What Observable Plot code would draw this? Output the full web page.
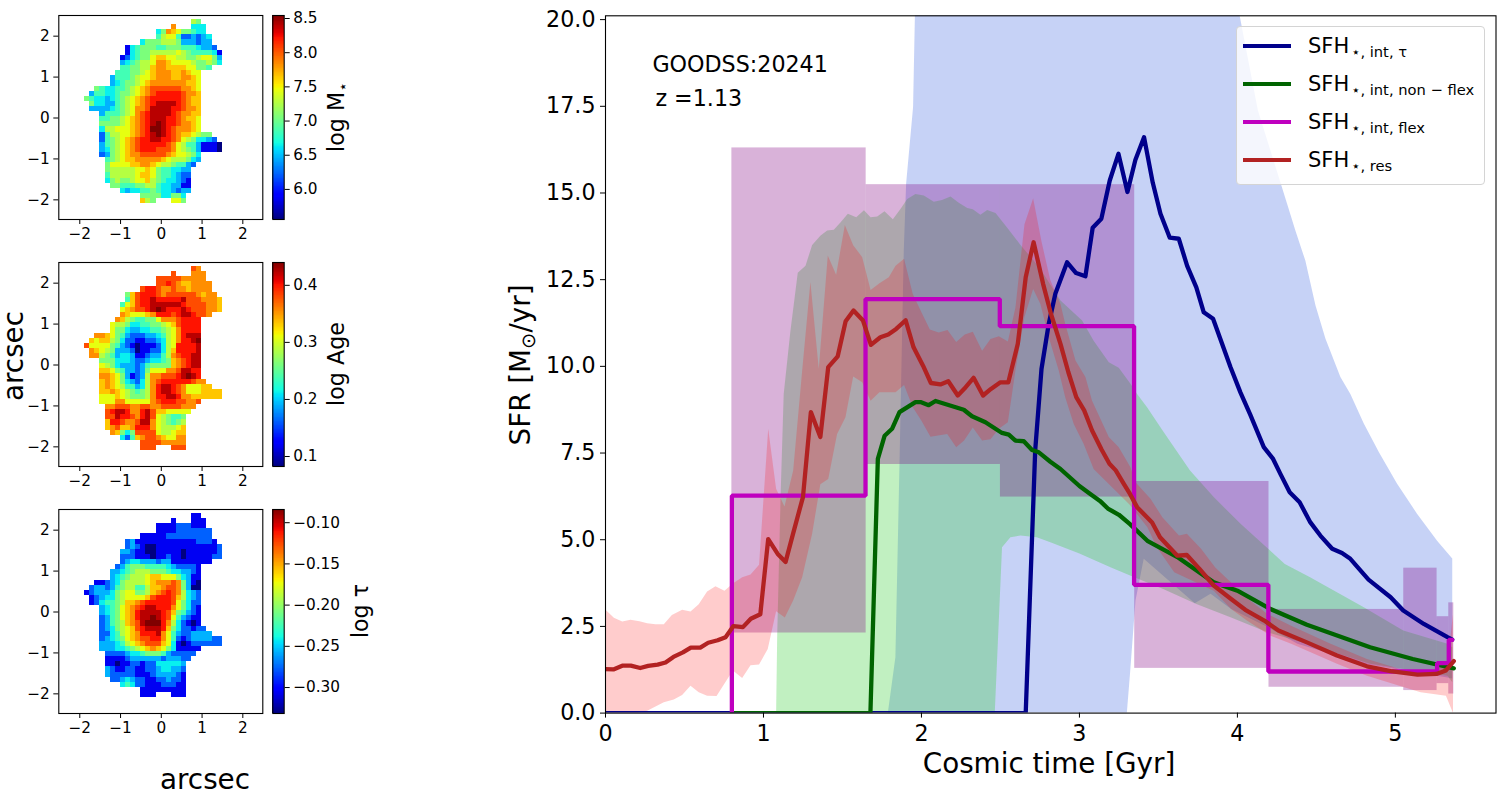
<!DOCTYPE html>
<html>
<head>
<meta charset="utf-8">
<script src="https://cdn.jsdelivr.net/npm/d3@7"></script>
<script src="https://cdn.jsdelivr.net/npm/@observablehq/plot@0.6"></script>
<style>
  html, body { margin: 0; padding: 0; background: #fff; overflow: hidden; }
  body { width: 1504px; height: 794px; position: relative; font-family: "DejaVu Sans", sans-serif; color: #000; }
  .label { position: absolute; white-space: nowrap; line-height: 1; transform: translate(-50%, -50%); }
  .label.up { transform: translate(-50%, -50%) rotate(-90deg); }
  .low { font-size: 0.7em; position: relative; top: 0.25em; margin-left: 2px; }
  #legend { position: absolute; left: 1236px; top: 26px; width: 248.5px; height: 158.5px; box-sizing: border-box;
    background: rgba(255, 255, 255, 0.8); border: 1.4px solid #d4d4d4; border-radius: 4px; }
  .swatch { position: absolute; left: 1242.7px; width: 48.3px; height: 4.2px; }
  .entry { position: absolute; left: 1308px; font-size: 21px; line-height: 1; white-space: nowrap; }
</style>
</head>
<body>
<script>
// maps: one character per pixel, 0 (navy) to e (dark red) on the jet colour bar, blank = masked
// first filled column of every row, counted from x = -1.88 arcsec
const rowStart = [21,17,14,14,11,8,8,7,7,7,6,5,5,2,1,0,1,1,3,3,3,3,3,3,3,3,3,4,4,4,4,4,5,7,11,11];
const levelFraction = [0,.1,.22,.3,.36,.43,.5,.57,.63,.7,.76,.83,.89,.95,1];

const massLevels = ["76","a   444","46a9866544","57885223234","46667776333233","145666556665554332",
  "1456677777876555541","12456689988776678863","3456778aa98888766764","5566779aa999988665",
  "55566789aaa99a988","355567889aaa99aa98","34566789aaaaaaa998","6544556789abbbbbbaa98",
  "35544566789abcccccbaa9","65443456789abccccccba99","6443356789abcddddcba99","333345678aabddddccbaa9",
  "3555678abcddddcbaa99","5566789abcdddccba998","6666789abcdedccbaa98","4778889abceedcbaaa98",
  "2577889abcdedcba998766","256789abccddccba8764432","356789abcccccba875531110","346789abcccbbba876531110",
  "236789aabbbbba988764","567899aaaaa98777643","6888899aa987765532","67777788986554433",
  "57777789986554322","46766788976544321","6655566775443311","43445565443233","666644664","976   886"];

const ageLevels = ["ba","b   aaa","bbbbbaaaaa","bbcba99aaaa","bccbaabaa9aaaa","69bcccbabbbbbba9aa",
  "59bccdcccccdbbbaaa9","589bccddddddcbbbbaa9","89abbcdedcccdcbbbaa9","a98889acccbcddcbba",
  "a97655668aaabcccc","8776445566789bcccc","8664334455678acccc","aa98653222334578acddd",
  "98997642211223478accde","b88886532101112478ccccd","a9876333201122479ccccd","aa76534431123357abccdd",
  "666444322344569abcdd","876433323566669abcdd","9986533236888aabddcc","aa98631237aabbbcdedc",
  "9a98643247abccccccbaa","9a98755347acddcba88899","99a9876567acddcba8889999","8889876667accddcaa999999",
  "888aa88888abcccbbaab","aabbbaabbaabbbbaaa","bcddcaacdb9988888","bbdccbacdb876556",
  "9ccbaabdda876567","9ab99accca877789","a9646bbbb877899","4259abba988aa","bbbbaaaaa","bbb   bbb"];

const tauLevels = ["11","1   111","1111222111","11112222222","11111222222222","231111111111112221",
  "2321001111111111112","33211001111101111112","22211101121101111122","234433323311111111",
  "23566655554322221","334567776665443321","345677789988864311","112346777789aaaba6310",
  "23323567755799abba6300","12333467886679abcba7432","123446788889bcccb97432","124556799abcccccb86422",
  "345689abcddccca86421","345689acddddcb965321","235689acddedcb853211","235679abdeeeca742101",
  "2346789bcdddc96422122","2245789acccda853223333","2345689abbcca85212333322","33345789abbb984101222222",
  "3334456789a986411111","222234456665322222","11112333333233322","1101122122444443",
  "3211221122344332","3222221112333321","223432211223221","4542211122211","111111111","111   111"];

// colour bar ranges and ticks
const massRange = [5.56, 8.544];
const massTicks = [6, 6.5, 7, 7.5, 8, 8.5];
const ageRange = [0.0825, 0.44];
const ageTicks = [0.1, 0.2, 0.3, 0.4];
const tauRange = [-0.3315, -0.084];
const tauTicks = [-0.3, -0.25, -0.2, -0.15, -0.1];
const mapTicks = [-2, -1, 0, 1, 2];

// star formation histories, [cosmic time in Gyr, SFR]
const tauLine = [[0,0],[2.66,0],[2.72,7.57],[2.76,9.93],[2.806,11.23],[2.848,12.1],[2.922,13],[2.979,12.69],[3.038,12.6],
  [3.084,14],[3.139,14.26],[3.192,15.36],[3.247,16.13],[3.304,15.03],[3.354,15.95],[3.409,16.61],[3.464,15.3],[3.513,14.4],
  [3.572,13.71],[3.629,13.68],[3.682,12.9],[3.74,12.28],[3.787,11.56],[3.846,11.37],[3.903,10.65],[3.956,9.98],[4.019,9.25],
  [4.082,8.6],[4.167,7.67],[4.226,7.33],[4.272,6.9],[4.331,6.37],[4.394,6.08],[4.462,5.5],[4.525,5.12],[4.6,4.74],[4.662,4.62],
  [4.715,4.45],[4.78,4.11],[4.83,3.85],[4.97,3.34],[5.05,2.96],[5.18,2.57],[5.33,2.19],[5.36,2.12]];

const nonFlexLine = [[0.8,0],[1.677,0],[1.724,7.33],[1.767,8],[1.814,8.2],[1.861,8.68],[1.962,8.97],[1.994,8.97],[2.046,8.88],
  [2.089,9],[2.268,8.75],[2.32,8.56],[2.405,8.39],[2.51,8.08],[2.553,8.03],[2.595,7.86],[2.648,7.84],[2.7,7.59],[2.743,7.52],
  [2.816,7.25],[2.88,7.04],[3,6.55],[3.06,6.35],[3.13,6.12],[3.18,5.9],[3.25,5.72],[3.32,5.45],[3.43,4.97],[3.62,4.5],[3.85,3.77],
  [4,3.53],[4.21,3],[4.44,2.55],[4.84,1.9],[5.11,1.56],[5.37,1.29]];

const flexTime = [0.8,0.8,1.646,2.496,3.346,4.196,5.264,5.338,5.36];
const flexSfr = [0,6.27,11.94,11.16,3.7,1.2,1.44,2.11,2.11];

const resTime = [0,.05,.11,.16,.22,.27,.33,.38,.43,.49,.54,.6,.65,.71,.76,.81,.87,.92,.98,1.03,1.09,1.14,1.19,1.25,1.3,1.36,1.41,1.47,
  1.52,1.57,1.63,1.68,1.74,1.79,1.84,1.9,1.95,2.01,2.06,2.12,2.17,2.23,2.28,2.33,2.39,2.44,2.5,2.55,2.61,2.66,2.71,2.77,2.82,2.88,2.93,
  2.98,3.03,3.08,3.14,3.19,3.23,3.28,3.32,3.365,3.46,3.51,3.62,3.68,3.76,3.85,3.96,4.05,4.17,4.26,4.44,4.63,4.82,4.97,5.14,5.26,5.32,5.37];
const resSfr = [1.27,1.26,1.37,1.37,1.3,1.36,1.4,1.46,1.62,1.75,1.89,1.89,2.03,2.1,2.19,2.51,2.48,2.72,2.85,5.02,4.59,4.36,5.22,6.23,8.68,7.96,
  9.98,10.29,11.3,11.61,11.32,10.62,10.84,10.92,11.08,11.33,10.55,10.02,9.52,9.48,9.57,9.16,9.4,9.67,9.16,9.35,9.54,9.54,10.65,12.57,13.58,12.38,
  11.51,10.65,9.83,9.11,8.73,8.15,7.6,7.19,7,6.62,6.32,5.94,5.5,5.07,4.54,4.56,4.16,3.68,3.29,2.98,2.67,2.38,2.04,1.66,1.35,1.21,1.11,1.13,1.23,1.5];

// uncertainty bands, outlines going along the top and back along the bottom
const tauBand = [[1.787,0],[1.835,1.61],[1.861,7.19],[1.888,13.34],[1.903,15.27],[1.947,17.48],[1.958,20],[1.965,22],[4,22],[4.015,20.1],
  [4.13,17.38],[4.314,14.7],[4.367,13.92],[4.43,13.05],[4.494,11.76],[4.557,10.8],[4.652,9.69],[4.715,9.2],[4.8,8.35],[4.896,7.52],[5.01,6.62],
  [5.137,5.75],[5.264,4.97],[5.36,4.46],[5.36,1],[5.33,1.03],[4.8,1.42],[4.38,2],[4.19,2.48],[3.96,3],[3.83,3.44],[3.73,3.17],[3.407,4.45],
  [3.355,3.25],[3.32,1.13],[3.3,0]];

const nonFlexBand = [[1.08,0],[1.087,2.28],[1.108,6.2],[1.128,9.2],[1.17,11],[1.217,12.7],[1.266,12.9],[1.308,13.5],[1.36,13.77],[1.403,13.92],
  [1.445,13.94],[1.487,14.15],[1.534,14.4],[1.587,14.3],[1.636,14.5],[1.678,14.3],[1.72,14.32],[1.766,14.47],[1.819,14.24],[1.867,14.54],[1.91,14.83],
  [1.962,14.97],[2.015,14.93],[2.078,14.75],[2.13,14.8],[2.184,14.9],[2.236,14.72],[2.29,14.57],[2.325,14.53],[2.373,14.37],[2.416,14.51],[2.469,14.42],
  [2.543,14],[2.627,13.5],[2.71,13.05],[2.753,12.81],[2.88,11.9],[3.017,11.32],[3.09,10.74],[3.186,10.12],[3.249,9.96],[3.323,9.5],[3.365,9.2],[3.428,8.82],
  [3.534,8.1],[3.7,7],[3.85,6.23],[4.02,5.46],[4.3,4.3],[4.46,3.92],[4.8,3.05],[5.05,2.38],[5.33,2],[5.36,1.9],[5.36,0.89],[5.33,1.08],[4.84,1.42],
  [4.44,2],[4.19,2.33],[3.96,2.76],[3.74,3.15],[3.53,3.58],[3.355,3.9],[3.2,4.2],[3,4.6],[2.816,4.93],[2.73,5.07],[2.627,5.12],[2.563,5.07],[2.51,4.78],[2.464,0]];

const resBand = [[0,2.98],[.053,2.75],[.106,2.64],[.158,2.69],[.215,2.65],[.264,2.59],[.316,2.56],[.369,2.56],[.42,2.83],[.485,2.98],[.538,2.93],[.59,3.14],
  [.643,3.51],[.696,3.66],[.753,3.53],[.806,3.74],[.865,3.92],[.918,4],[.972,4.28],[1.03,8.2],[1.08,6.47],[1.133,5.96],[1.188,7],[1.245,9.88],[1.297,12.43],
  [1.35,9.93],[1.407,13.2],[1.46,12.64],[1.515,14.08],[1.568,13.49],[1.625,13.15],[1.678,12.2],[1.734,12.4],[1.793,12.57],[1.836,12.9],[1.89,13.1],[1.945,12.09],
  [2,11.56],[2.053,11.06],[2.109,10.98],[2.165,11.05],[2.22,10.7],[2.274,10.92],[2.325,11],[2.384,10.45],[2.437,10.79],[2.49,10.87],[2.547,10.72],[2.595,11.7],
  [2.652,14.1],[2.707,14.85],[2.76,13.6],[2.816,12.48],[2.88,11.8],[2.91,11.23],[2.975,10.17],[3.038,9.69],[3.08,9.01],[3.186,7.96],[3.249,7.67],[3.323,7.09],
  [3.355,6.66],[3.45,6.18],[3.525,5.65],[3.63,5.12],[3.68,5.17],[3.77,4.74],[3.86,4.2],[3.98,3.68],[4.08,3.25],[4.19,2.86],[4.34,2.52],[4.59,2],[4.82,1.56],
  [5.03,1.27],[5.22,1.18],[5.33,1.5],[5.365,2.86],[5.365,0],[5.32,.5],[5.16,.6],[5.05,.75],[4.82,1.08],[4.63,1.42],[4.34,2],[4.21,2.23],[4.06,2.67],[3.96,3],
  [3.85,3.53],[3.6,4.06],[3.49,4.78],[3.43,5.36],[3.32,6],[3.09,7.04],[3.027,7.76],[2.964,8.34],[2.91,9.11],[2.869,9.88],[2.806,10.84],[2.753,11.8],[2.707,12.23],
  [2.652,11.42],[2.595,9.88],[2.547,8.39],[2.49,8.2],[2.437,7.9],[2.384,7.86],[2.325,8.24],[2.27,7.86],[2.22,7.67],[2.163,8.05],[2.057,7.97],[2,8.43],[1.945,8.82],
  [1.89,9.46],[1.836,9.25],[1.734,9.25],[1.678,9.01],[1.625,9.54],[1.568,9.71],[1.519,8.53],[1.466,8.05],[1.41,6.75],[1.36,6.6],[1.308,5.17],[1.245,3.92],[1.188,3.25],
  [1.135,2.76],[1.08,2.94],[1.027,1.85],[.972,1.4],[.918,1.38],[.865,1.01],[.806,1.23],[.703,.49],[.643,.5],[.59,.6],[.538,.79],[.485,.52],[.432,.39],[.369,.31],[.264,.07],[.2,0],[0,0]];

const flexBinEdges = [0.8,1.65,2.5,3.35,4.2,5.053,5.264,5.338,5.37];
const flexBinLow = [2.31,7.17,6.23,1.29,0.745,0.65,0.85,0.55];
const flexBinHigh = [16.3,15.24,15.24,6.68,2.99,4.18,2.78,3.18];

const legendEntries = [
  ["SFH", "⋆, int, τ", "#00008b"],
  ["SFH", "⋆, int, non − flex", "#006400"],
  ["SFH", "⋆, int, flex", "#bf00bf"],
  ["SFH", "⋆, res", "#b22222"]
];

const jetRed = d3.scaleLinear([0, .35, .66, .89, 1], [0, 0, 1, 1, .5]).clamp(true);
const jetGreen = d3.scaleLinear([0, .125, .375, .64, .91, 1], [0, 0, 1, 1, 0, 0]).clamp(true);
const jetBlue = d3.scaleLinear([0, .11, .34, .65, 1], [.5, 1, 1, 0, 0]).clamp(true);
const jet = (t) => d3.rgb(jetRed(t) * 255, jetGreen(t) * 255, jetBlue(t) * 255).formatRgb();

const page = document.body;
const addLabel = (html, x, y, size, up) => {
  const el = document.createElement("div");
  el.className = up ? "label up" : "label";
  el.innerHTML = html;
  el.style.left = x + "px";
  el.style.top = y + "px";
  el.style.fontSize = size + "px";
  page.appendChild(el);
};
const place = (chart, left, top, fontSize) => {
  chart.style.position = "absolute";
  chart.style.left = left + "px";
  chart.style.top = top + "px";
  chart.style.fontFamily = '"DejaVu Sans"';
  chart.style.fontSize = fontSize + "px";
  chart.style.background = "transparent";
  chart.style.overflow = "visible";
  page.appendChild(chart);
};

const toCells = (levels, range) => {
  const out = [];
  levels.forEach((row, r) => {
    [...row].forEach((ch, i) => {
      if (ch === " ") return;
      const c = rowStart[r] + i;
      out.push({
        x1: -1.88 + c * 0.125, x2: -1.88 + (c + 1) * 0.125,
        y1: 2.407 - (r + 1) * 0.125, y2: 2.407 - r * 0.125,
        value: range[0] + levelFraction[parseInt(ch, 16)] * (range[1] - range[0])
      });
    });
  });
  return out;
};

const drawMap = (levels, range, ticks, top, format) => {
  const color = {type: "linear", domain: range, interpolate: jet};
  const map = Plot.plot({
    width: 290, height: 244, marginLeft: 58.3, marginRight: 27.7, marginTop: 20, marginBottom: 20,
    x: {domain: [-2.515, 2.49]},
    y: {domain: [-2.48, 2.505]},
    color,
    marks: [
      Plot.rect(toCells(levels, range), {x1: "x1", x2: "x2", y1: "y1", y2: "y2", fill: "value", shapeRendering: "crispEdges"}),
      Plot.axisX({ticks: mapTicks, tickFormat: d3.format("d"), tickSize: 5, tickPadding: 4, label: null}),
      Plot.axisY({ticks: mapTicks, tickFormat: d3.format("d"), tickSize: 5, tickPadding: 4, label: null}),
      Plot.frame({stroke: "black", strokeWidth: 1.1})
    ]
  });
  place(map, 0, top - 20, 15.3);

  const steps = d3.range(256).map((i) => ({
    y1: range[0] + (i / 256) * (range[1] - range[0]),
    y2: range[0] + ((i + 1) / 256) * (range[1] - range[0])
  }));
  const bar = Plot.plot({
    width: 100, height: 244, marginLeft: 2.3, marginRight: 86.3, marginTop: 20, marginBottom: 20,
    x: {domain: [0, 1], axis: null},
    y: {domain: range},
    color,
    marks: [
      Plot.rect(steps, {x1: 0, x2: 1, y1: "y1", y2: "y2", fill: (d) => (d.y1 + d.y2) / 2, shapeRendering: "crispEdges"}),
      Plot.axisY({anchor: "right", ticks, tickFormat: format, tickSize: 5, tickPadding: 4, label: null}),
      Plot.frame({stroke: "black", strokeWidth: 1.1})
    ]
  });
  place(bar, 270, top - 20, 15.3);
};

drawMap(massLevels, massRange, massTicks, 15, d3.format(".1f"));
drawMap(ageLevels, ageRange, ageTicks, 262, d3.format(".1f"));
drawMap(tauLevels, tauRange, tauTicks, 509, d3.format(".2f"));

const asPoint = {x: (d) => d[0], y: (d) => d[1]};
const bandMark = (points, fill, fillOpacity) =>
  Plot.line(points, {...asPoint, fill, fillOpacity, stroke: "none", clip: true});
const lineMark = (points, stroke) =>
  Plot.line(points, {...asPoint, stroke, strokeWidth: 4.3, strokeLinejoin: "round", clip: true});
const flexBins = flexBinLow.map((low, i) => ({x1: flexBinEdges[i], x2: flexBinEdges[i + 1], y1: low, y2: flexBinHigh[i]}));

const main = Plot.plot({
  width: 1504, height: 794,
  marginLeft: 605, marginRight: 8.5, marginTop: 15.3, marginBottom: 81.4,
  x: {domain: [0, 5.637]},
  y: {domain: [0, 20.11]},
  marks: [
    bandMark(tauBand, "royalblue", 0.3),
    bandMark(nonFlexBand, "limegreen", 0.3),
    Plot.rect(flexBins, {x1: "x1", x2: "x2", y1: "y1", y2: "y2", fill: "purple", fillOpacity: 0.3, clip: true}),
    bandMark(resBand, "red", 0.2),
    lineMark(tauLine, "#00008b"),
    lineMark(nonFlexLine, "#006400"),
    Plot.line(flexTime.map((t, i) => [t, flexSfr[i]]), {...asPoint, curve: "step-after", stroke: "#bf00bf", strokeWidth: 4.3, strokeLinejoin: "miter", clip: true}),
    lineMark(resTime.map((t, i) => [t, resSfr[i]]), "#b22222"),
    Plot.text(["GOODSS:20241"], {x: 0.297, y: 18.7, text: (d) => d, textAnchor: "start", fontSize: 22.2}),
    Plot.text(["z =1.13"], {x: 0.316, y: 17.7, text: (d) => d, textAnchor: "start", fontSize: 22.2}),
    Plot.axisX({ticks: [0, 1, 2, 3, 4, 5], tickFormat: d3.format("d"), tickSize: 5, tickPadding: 7, label: null}),
    Plot.axisY({ticks: d3.range(0, 20.1, 2.5), tickFormat: d3.format(".1f"), tickSize: 5, tickPadding: 5, label: null}),
    Plot.frame({stroke: "black", strokeWidth: 1.1})
  ]
});
place(main, 0, 0, 22.2);

addLabel("arcsec", 14, 356, 27.8, true);
addLabel("arcsec", 205, 780, 27.8, false);
addLabel('log M<span class="low" style="margin-left:0">⋆</span>', 336, 117, 22.2, true);
addLabel("log Age", 336, 364, 22.2, true);
addLabel("log τ", 360, 611, 22.2, true);
addLabel('SFR [M<span class="low" style="margin-left:0">⊙</span>/yr]', 521, 365, 27.8, true);
addLabel("Cosmic time [Gyr]", 1049, 764, 27.8, false);

const legend = document.createElement("div");
legend.id = "legend";
page.appendChild(legend);
legendEntries.forEach(([name, sub, color], i) => {
  const swatch = document.createElement("div");
  swatch.className = "swatch";
  swatch.style.top = 43.6 + i * 38 + "px";
  swatch.style.background = color;
  page.appendChild(swatch);
  const entry = document.createElement("div");
  entry.className = "entry";
  entry.style.top = 36.2 + i * 38 + "px";
  entry.innerHTML = `${name}<span class="low">${sub}</span>`;
  page.appendChild(entry);
});
</script>
</body>
</html>
